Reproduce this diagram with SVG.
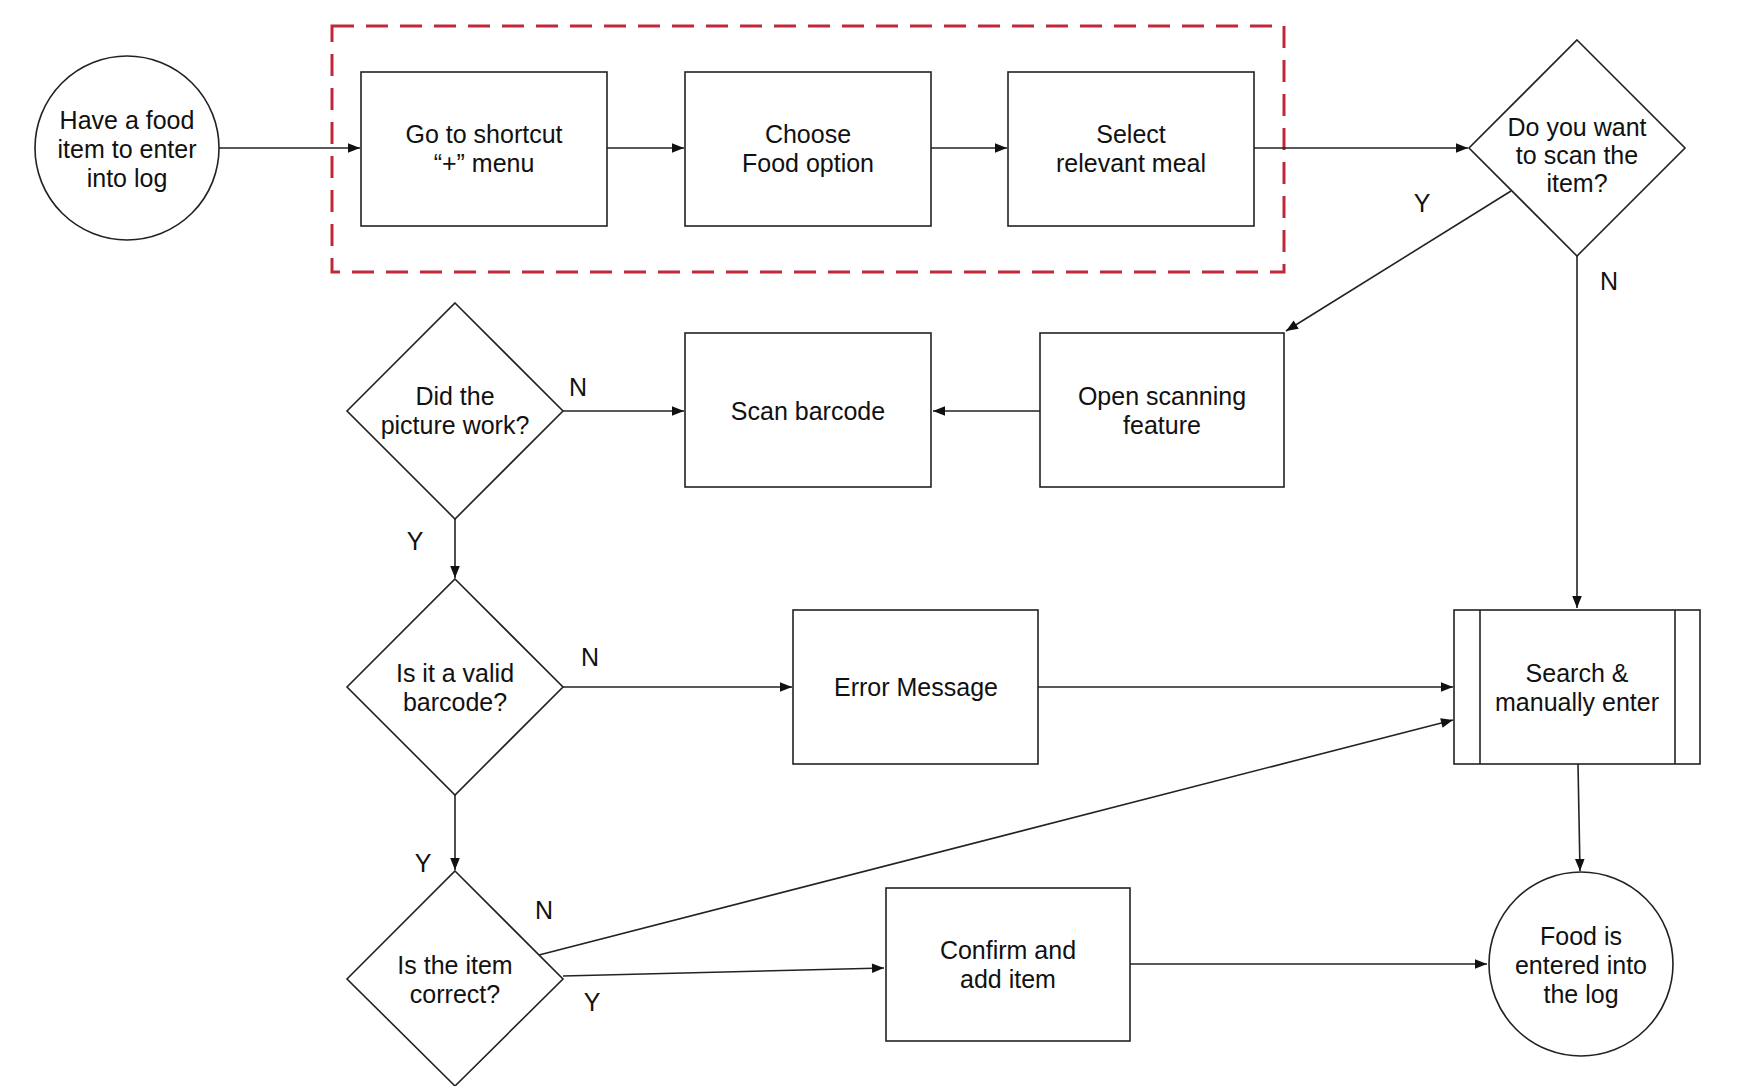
<svg xmlns="http://www.w3.org/2000/svg" width="1740" height="1086" viewBox="0 0 1740 1086">
<style>
.s{fill:#fff;stroke:#222;stroke-width:1.6}
.t{font-family:"Liberation Sans",Arial,sans-serif;font-size:25px;fill:#111;text-anchor:middle}
.c line{stroke:#222;stroke-width:1.6;marker-end:url(#a)}
</style>
<defs><marker id="a" viewBox="0 0 10 10" refX="10" refY="5" markerWidth="13" markerHeight="12" markerUnits="userSpaceOnUse" orient="auto"><path d="M0,1 L10,5 L0,9 z" fill="#111"/></marker></defs>
<rect width="1740" height="1086" fill="#fff"/>
<rect id="group" x="332" y="26" width="952" height="246" fill="none" stroke="#c0283a" stroke-width="3" stroke-dasharray="22,12"/>
<g class="c">
<line x1="219" y1="148" x2="360" y2="148"/>
<line x1="607" y1="148" x2="684" y2="148"/>
<line x1="931" y1="148" x2="1007" y2="148"/>
<line x1="1254" y1="148" x2="1468" y2="148"/>
<line x1="1511" y1="191" x2="1286" y2="331"/>
<line x1="1577" y1="256" x2="1577" y2="608"/>
<line x1="1040" y1="411" x2="933" y2="411"/>
<line x1="563" y1="411" x2="684" y2="411"/>
<line x1="455" y1="519" x2="455" y2="578"/>
<line x1="563" y1="687" x2="792" y2="687"/>
<line x1="1038" y1="687" x2="1453" y2="687"/>
<line x1="455" y1="795" x2="455" y2="870"/>
<line x1="539" y1="955" x2="1453" y2="720"/>
<line x1="563" y1="976" x2="884" y2="968"/>
<line x1="1130" y1="964" x2="1487" y2="964"/>
<line x1="1578" y1="764" x2="1580" y2="871"/>
</g>
<g class="t">
<text x="1422" y="212">Y</text>
<text x="1609" y="290">N</text>
<text x="578" y="396">N</text>
<text x="415" y="550">Y</text>
<text x="590" y="666">N</text>
<text x="423" y="872">Y</text>
<text x="544" y="919">N</text>
<text x="592" y="1011">Y</text>
</g>
<g id="start"><circle class="s" cx="127" cy="148" r="92"/><text class="t" x="127" y="129">Have a food</text><text class="t" x="127" y="158">item to enter</text><text class="t" x="127" y="187">into log</text></g>
<g id="shortcut"><rect class="s" x="361" y="72" width="246" height="154"/><text class="t" x="484" y="143">Go to shortcut</text><text class="t" x="484" y="172">“+” menu</text></g>
<g id="choose"><rect class="s" x="685" y="72" width="246" height="154"/><text class="t" x="808" y="143">Choose</text><text class="t" x="808" y="172">Food option</text></g>
<g id="meal"><rect class="s" x="1008" y="72" width="246" height="154"/><text class="t" x="1131" y="143">Select</text><text class="t" x="1131" y="172">relevant meal</text></g>
<g id="scanq"><polygon class="s" points="1577,40 1685,148 1577,256 1469,148"/><text class="t" x="1577" y="136">Do you want</text><text class="t" x="1577" y="164">to scan the</text><text class="t" x="1577" y="192">item?</text></g>
<g id="open"><rect class="s" x="1040" y="333" width="244" height="154"/><text class="t" x="1162" y="405">Open scanning</text><text class="t" x="1162" y="434">feature</text></g>
<g id="scan"><rect class="s" x="685" y="333" width="246" height="154"/><text class="t" x="808" y="420">Scan barcode</text></g>
<g id="picture"><polygon class="s" points="455,303 563,411 455,519 347,411"/><text class="t" x="455" y="405">Did the</text><text class="t" x="455" y="434">picture work?</text></g>
<g id="valid"><polygon class="s" points="455,579 563,687 455,795 347,687"/><text class="t" x="455" y="682">Is it a valid</text><text class="t" x="455" y="711">barcode?</text></g>
<g id="error"><rect class="s" x="793" y="610" width="245" height="154"/><text class="t" x="916" y="696">Error Message</text></g>
<g id="search"><rect class="s" x="1454" y="610" width="246" height="154"/><line x1="1480" y1="610" x2="1480" y2="764" stroke="#222" stroke-width="1.6"/><line x1="1675" y1="610" x2="1675" y2="764" stroke="#222" stroke-width="1.6"/><text class="t" x="1577" y="682">Search &amp;</text><text class="t" x="1577" y="711">manually enter</text></g>
<g id="correct"><polygon class="s" points="455,871 563,979 455,1086 347,979"/><text class="t" x="455" y="974">Is the item</text><text class="t" x="455" y="1003">correct?</text></g>
<g id="confirm"><rect class="s" x="886" y="888" width="244" height="153"/><text class="t" x="1008" y="959">Confirm and</text><text class="t" x="1008" y="988">add item</text></g>
<g id="end"><circle class="s" cx="1581" cy="964" r="92"/><text class="t" x="1581" y="945">Food is</text><text class="t" x="1581" y="974">entered into</text><text class="t" x="1581" y="1003">the log</text></g>
</svg>
